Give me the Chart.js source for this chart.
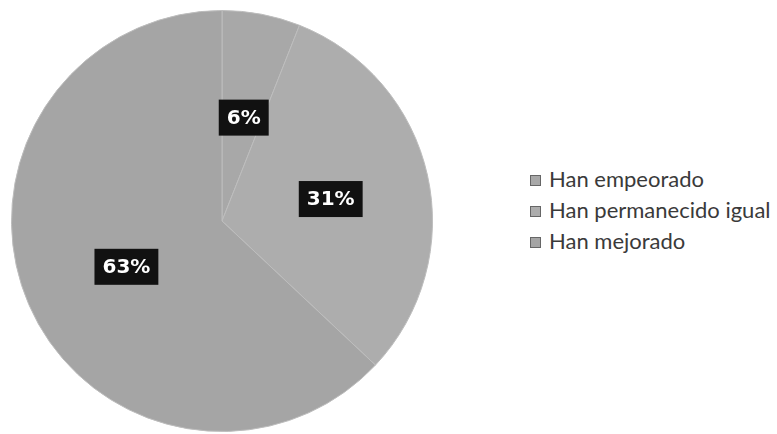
<!DOCTYPE html>
<html>
<head>
<meta charset="utf-8">
<script src="https://cdn.jsdelivr.net/npm/chart.js@4"></script>
<style>
  body { margin: 0; background: #fff; width: 777px; height: 434px; overflow: hidden; position: relative; }
  #wrap { position: absolute; left: 11px; top: 10px; width: 422px; height: 422px; }
  #legend { position: absolute; left: 530px; top: 163px; font-family: Lato, sans-serif; font-size: 22px; color: #3a3a3a; }
  #legend div { height: 31px; line-height: 31px; white-space: nowrap; }
  #legend span { display: inline-block; width: 11px; height: 11px; margin-right: 8px; vertical-align: 1px; background: #999; border: 1px solid #666; box-sizing: border-box; }
</style>
</head>
<body>
<div id="wrap"><canvas id="pie"></canvas></div>
<div id="legend"></div>
<script>
// Data
const categories = ["Han empeorado", "Han permanecido igual", "Han mejorado"];
const values = [6, 31, 63];
const colors = ["#a8a8a8", "#adadad", "#a5a5a5"];

// legend
const legend = document.getElementById("legend");
categories.forEach((c, i) => {
    legend.innerHTML += `<div><span style="background:${colors[i]}"></span>${c}</div>`;
});

// percentage boxes drawn over slices
const labelBoxes = {
    id: "labelBoxes",
    afterDatasetsDraw(chart, args, opts) {
        const ctx = chart.ctx;
        const meta = chart.getDatasetMeta(0);
        ctx.save();
        ctx.font = "bold 20px 'DejaVu Sans'";
        ctx.textAlign = "center";
        ctx.textBaseline = "middle";
        meta.data.forEach((arc, i) => {
            const p = arc.tooltipPosition();
            const off = opts.offsets[i] || [0, 0];
            const x = p.x + off[0], y = p.y + off[1];
            const txt = values[i] + "%";
            const w = ctx.measureText(txt).width + 16;
            const h = 36;
            ctx.fillStyle = "#111";
            ctx.fillRect(x - w / 2, y - h / 2, w, h);
            ctx.fillStyle = "#fff";
            ctx.fillText(txt, x, y + 1);
        });
        ctx.restore();
    }
};

new Chart(document.getElementById("pie"), {
    type: "pie",
    data: {
        labels: categories,
        datasets: [{
            data: values,
            backgroundColor: colors,
            borderColor: "#bdbdbd",
            borderWidth: 1
        }]
    },
    options: {
        responsive: true,
        maintainAspectRatio: false,
        animation: false,
        layout: { padding: 0 },
        plugins: {
            legend: { display: false },
            tooltip: { enabled: false },
            labelBoxes: { offsets: [[2, 0], [6, 1], [1, 4]] }
        }
    },
    plugins: [labelBoxes]
});
</script>
</body>
</html>
